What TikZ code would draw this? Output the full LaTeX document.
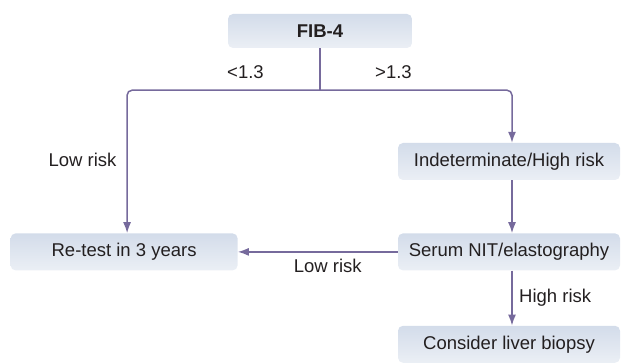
\documentclass[tikz,border=0pt]{standalone}
\usepackage{fontspec}
\setmainfont{Liberation Sans}
\usetikzlibrary{arrows.meta, positioning, calc}
\definecolor{flowline}{HTML}{766A9C}
\definecolor{boxtop}{HTML}{D3DCEA}
\definecolor{boxbot}{HTML}{EBEFF5}
\definecolor{txt}{HTML}{231F20}
\tikzstyle{stage} = [rectangle, rounded corners=5pt, top color=boxtop, bottom color=boxbot, text centered, text=txt, minimum width=222pt, minimum height=37pt, inner sep=0pt, font=\fontsize{18.5}{21}\selectfont]
\tikzstyle{cut} = [text=txt, inner sep=0pt, font=\fontsize{18.5}{21}\selectfont]
\tikzstyle{flow} = [line width=1.5pt, -{Latex[length=11pt, width=8pt]}, flowline, rounded corners=5pt]
\tikzstyle{trunk} = [line width=1.5pt, flowline]

\begin{document}
\begin{tikzpicture}[x=1pt, y=1pt]
	\useasboundingbox (0,0) rectangle (622,363);

	% Boxes
	\node (fib) [stage, minimum width=184pt, minimum height=34pt, font=\fontsize{18.5}{21}\selectfont\bfseries] at (320,332) {FIB-4};
	\node (indet) [stage] at (509,201.5) {Indeterminate/High risk};
	\node (serum) [stage, below=53pt of indet] {Serum NIT/elastography};
	\node (biopsy) [stage, below=55pt of serum] {Consider liver biopsy};
	\node (retest) [stage, minimum width=227pt, left=160pt of serum] {Re-test in 3 years};

	% Split point
	\coordinate [below=42pt of fib.south] (split);

	% Labels
	\node (lower) [cut] at (245.5,291) {<1.3};
	\node (upper) [cut] at (393.5,291) {>1.3};
	\node (lowleft) [cut] at (82.5,203) {Low risk};
	\node (lowmid) [cut, below=7pt of $(retest.east)!0.5!(serum.west)$, xshift=10pt] {Low risk};
	\node (highrisk) [cut, right=10pt of $(serum.south)!0.5!(biopsy.north)$] {High risk};

	% Arrows
	\draw[trunk] (fib) -- (split);
	\draw[flow] (split) -| ([xshift=3pt]retest.north);
	\draw[flow] (split) -| ([xshift=3pt]indet.north);
	\draw[flow] ([xshift=3pt]indet.south) -- ([xshift=3pt]serum.north);
	\draw[flow] (serum) -- (retest);
	\draw[flow] ([xshift=3pt]serum.south) -- ([xshift=3pt]biopsy.north);

\end{tikzpicture}
\end{document}
